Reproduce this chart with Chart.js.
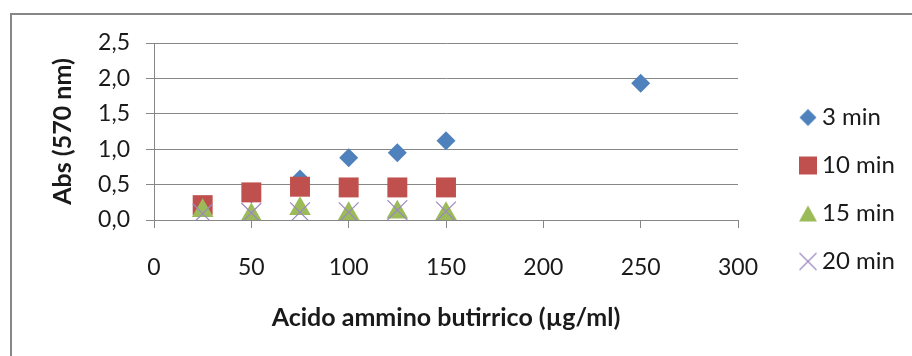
<!DOCTYPE html>
<html>
<head>
<meta charset="utf-8">
<script src="https://cdn.jsdelivr.net/npm/chart.js@4/dist/chart.umd.min.js"></script>
<style>
  html, body { margin: 0; padding: 0; background: #ffffff; }
  canvas { display: block; }
</style>
</head>
<body>
<canvas id="chart" width="912" height="356"></canvas>
<script>
// Concentrations of aminobutyric acid (µg/ml) and absorbance at 570 nm per reaction time
const concentrations = [25, 50, 75, 100, 125, 150, 250];
const seriesNames = ['3 min', '10 min', '15 min', '20 min'];
const abs3min  = [0.20, 0.37, 0.58, 0.88, 0.95, 1.12, 1.93];
const abs10min = [0.21, 0.39, 0.47, 0.46, 0.46, 0.46];
const abs15min = [0.13, 0.07, 0.16, 0.09, 0.11, 0.09];
const abs20min = [0.09, 0.10, 0.11, 0.11, 0.14, 0.12];
const xTickValues = [0, 50, 100, 150, 200, 250, 300];
const yTickValues = [0, 0.5, 1.0, 1.5, 2.0, 2.5];

const FONT = 'Lato';
const TEXT = '#1a1a1a';
const GRID = '#878787';
const COLORS = { blue: '#4F81BD', red: '#C0504D', green: '#9BBB59', purple: '#9C88C0' };

function toPoints(values) {
  return values.map((v, i) => ({ x: concentrations[i], y: v }));
}

// small legend glyphs
function icon(draw) {
  const c = document.createElement('canvas');
  c.width = 20; c.height = 20;
  draw(c.getContext('2d'));
  return c;
}
const legendIcons = [
  icon(g => { g.fillStyle = COLORS.blue; g.beginPath(); g.moveTo(10, 1.5); g.lineTo(18.5, 10); g.lineTo(10, 18.5); g.lineTo(1.5, 10); g.closePath(); g.fill(); }),
  icon(g => { g.fillStyle = COLORS.red; g.fillRect(1, 1, 18, 18); }),
  icon(g => { g.fillStyle = COLORS.green; g.beginPath(); g.moveTo(10, 2); g.lineTo(19, 18); g.lineTo(1, 18); g.closePath(); g.fill(); }),
  icon(g => { g.strokeStyle = COLORS.purple; g.lineWidth = 1.2; g.beginPath(); g.moveTo(1.5, 1.5); g.lineTo(18.5, 18.5); g.moveTo(18.5, 1.5); g.lineTo(1.5, 18.5); g.stroke(); })
];

// legend geometry
const legendFontSize = 24;
const legendPad = 24;
const legendBoxW = 4;
const legendLeft = 782;
const measureCtx = document.createElement('canvas').getContext('2d');
measureCtx.font = 'normal ' + legendFontSize + 'px ' + FONT;
const maxTextW = Math.max(...seriesNames.map(s => measureCtx.measureText(s).width));
const legendWidth = legendPad + legendBoxW + legendFontSize / 2 + maxTextW + 10;
const rightPad = Math.max(0, 912 - legendLeft - legendWidth);

// outer chart frame
const framePlugin = {
  id: 'frame',
  beforeDraw(chart) {
    const ctx = chart.ctx;
    ctx.save();
    ctx.strokeStyle = GRID;
    ctx.lineWidth = 2;
    ctx.strokeRect(11, 14, chart.width + 20, chart.height + 20);
    ctx.restore();
  }
};

const fmt = v => v.toFixed(1).replace('.', ',');

new Chart(document.getElementById('chart'), {
  type: 'scatter',
  data: {
    datasets: [
      { label: seriesNames[0], data: toPoints(abs3min), order: 4,
        pointStyle: 'rectRot', pointRadius: 9.5, pointHoverRadius: 9.5,
        backgroundColor: COLORS.blue, borderColor: COLORS.blue, borderWidth: 0 },
      { label: seriesNames[1], data: toPoints(abs10min), order: 3,
        pointStyle: 'rect', pointRadius: 14.1, pointHoverRadius: 14.1,
        backgroundColor: COLORS.red, borderColor: COLORS.red, borderWidth: 0 },
      { label: seriesNames[2], data: toPoints(abs15min), order: 2,
        pointStyle: 'triangle', pointRadius: 12.5, pointHoverRadius: 12.5,
        backgroundColor: COLORS.green, borderColor: COLORS.green, borderWidth: 0 },
      { label: seriesNames[3], data: toPoints(abs20min), order: 1,
        pointStyle: 'crossRot', pointRadius: 14, pointHoverRadius: 14,
        backgroundColor: COLORS.purple, borderColor: COLORS.purple, borderWidth: 1.2 }
    ]
  },
  options: {
    responsive: false,
    animation: false,
    color: TEXT,
    layout: { padding: { top: 43, bottom: 20, left: 0, right: rightPad } },
    plugins: {
      tooltip: { enabled: false },
      legend: {
        position: 'right',
        labels: {
          usePointStyle: true,
          boxWidth: legendBoxW,
          padding: legendPad,
          color: TEXT,
          font: { family: FONT, size: legendFontSize },
          sort: (a, b) => a.datasetIndex - b.datasetIndex,
          generateLabels(chart) {
            const items = Chart.defaults.plugins.legend.labels.generateLabels(chart);
            items.forEach(it => { it.pointStyle = legendIcons[it.datasetIndex]; });
            return items;
          }
        }
      }
    },
    scales: {
      x: {
        type: 'linear',
        position: 'bottom',
        min: xTickValues[0],
        max: xTickValues[xTickValues.length - 1],
        afterBuildTicks(scale) { scale.ticks = xTickValues.map(v => ({ value: v })); },
        afterFit(scale) { scale.height = 116; },
        grid: { drawOnChartArea: false, drawTicks: true, tickLength: 8, color: GRID, tickColor: GRID },
        border: { display: true, color: GRID, width: 1 },
        ticks: { color: TEXT, padding: 26, font: { family: FONT, size: 23 }, maxRotation: 0 },
        title: {
          display: true,
          text: 'Acido ammino butirrico (µg/ml)',
          color: TEXT,
          font: { family: FONT, size: 25, weight: 'bold' },
          padding: { top: 0, bottom: 3 }
        }
      },
      y: {
        type: 'linear',
        position: 'left',
        min: yTickValues[0],
        max: yTickValues[yTickValues.length - 1],
        afterBuildTicks(scale) { scale.ticks = yTickValues.map(v => ({ value: v })); },
        afterFit(scale) { scale.width = 154; scale.paddingTop = 0; scale.paddingBottom = 0; },
        grid: { drawOnChartArea: true, drawTicks: true, tickLength: 8, color: GRID, tickColor: GRID },
        border: { display: true, color: GRID, width: 1 },
        ticks: { color: TEXT, padding: 16, font: { family: FONT, size: 23 }, callback: v => fmt(v) },
        title: {
          display: true,
          text: 'Abs (570 nm)',
          color: TEXT,
          font: { family: FONT, size: 25, weight: 'bold' },
          padding: { top: 48, bottom: 0 }
        }
      },
      gap: {
        type: 'linear',
        position: 'right',
        axis: 'y',
        display: true,
        grid: { display: false, drawTicks: false },
        border: { display: false },
        ticks: { display: false },
        afterFit(scale) { scale.width = 44; scale.paddingTop = 0; scale.paddingBottom = 0; }
      }
    }
  },
  plugins: [framePlugin]
});
</script>
</body>
</html>
